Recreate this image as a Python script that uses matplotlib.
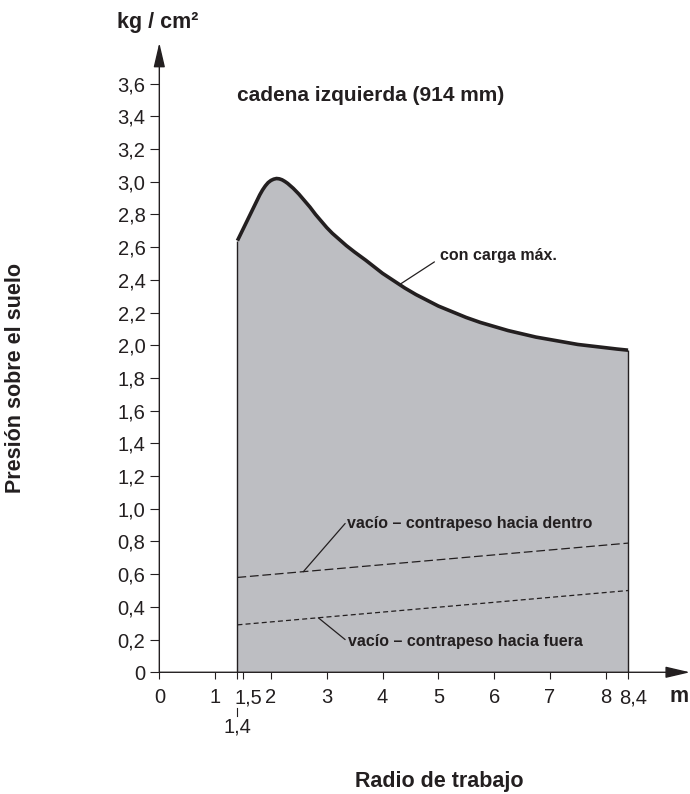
import matplotlib.pyplot as plt
import matplotlib.transforms as mtrans
import numpy as np

plt.rcParams['font.family'] = ['Liberation Sans', 'DejaVu Sans']

# working radius (m) and ground pressure (kg/cm2), max load
radius = np.array([1.4, 1.5, 1.6, 1.7, 1.8, 1.85, 1.9, 1.95, 2.0, 2.05, 2.1, 2.15,
                   2.2, 2.25, 2.3, 2.4, 2.5, 2.6, 2.7, 2.8, 2.9, 3.0, 3.1, 3.2,
                   3.35, 3.5, 3.7, 3.85, 4.0, 4.2, 4.4, 4.6, 4.8, 5.0, 5.25, 5.5,
                   5.75, 6.0, 6.25, 6.5, 6.75, 7.0, 7.25, 7.5, 7.75, 8.0, 8.2, 8.4])
max_load = np.array([2.64, 2.71, 2.78, 2.85, 2.92, 2.95, 2.975, 2.995, 3.008, 3.016,
                     3.02, 3.018, 3.012, 3.002, 2.99, 2.96, 2.925, 2.885, 2.845, 2.80,
                     2.76, 2.72, 2.685, 2.655, 2.61, 2.57, 2.52, 2.48, 2.44, 2.395,
                     2.35, 2.31, 2.275, 2.24, 2.205, 2.17, 2.14, 2.115, 2.09, 2.07,
                     2.05, 2.035, 2.02, 2.005, 1.995, 1.985, 1.977, 1.97])

# empty, counterweight inward / outward
empty_radius = np.array([1.4, 8.4])
empty_inward = np.array([0.58, 0.79])
empty_outward = np.array([0.29, 0.50])

yticks = np.arange(0, 3.61, 0.2)
ytick_labels = ["0"] + [f"{v:.1f}".replace(".", ",") for v in yticks[1:]]
xticks = [0, 1, 1.4, 1.5, 2, 3, 4, 5, 6, 7, 8, 8.4]
xtick_labels = ["0", "1", "", "1,5", "2", "3", "4", "5", "6", "7", "8", "8,4"]

ink = "#231f20"
grey = "#bdbec2"

fig = plt.figure(figsize=(6.9, 7.94), dpi=100)
ax = fig.add_axes([0.2309, 0.1533, 0.7691, 0.7928])
ax.set_xlim(0, 9.51)
ax.set_ylim(0, 3.85)

ax.fill_between(radius, 0, max_load, color=grey, lw=0)
ax.plot(radius, max_load, color=ink, lw=2.6, solid_capstyle="butt",
        solid_joinstyle="round")
ax.vlines([radius[0], radius[-1]], 0, [max_load[0], max_load[-1]], color=ink, lw=1)
ax.plot(empty_radius, empty_inward, color=ink, lw=0.9, ls=(0, (7, 3)))
ax.plot(empty_radius, empty_outward, color=ink, lw=0.9, ls=(0, (4, 2.5)))

for s in ax.spines.values():
    s.set_visible(False)

# axis lines with arrow heads
arrow = dict(arrowstyle="-|>,head_length=1.5,head_width=0.35", mutation_scale=10,
             lw=1, color=ink, shrinkA=0, shrinkB=0)
ax.annotate("", xy=(1, 0), xytext=(0, 0), xycoords="axes fraction", arrowprops=arrow)
ax.annotate("", xy=(0, 1), xytext=(0, 0), xycoords="axes fraction", arrowprops=arrow)

ax.set_yticks(yticks, ytick_labels)
ax.set_xticks(xticks, xtick_labels)
ax.tick_params(axis="y", length=6.5, width=0.8, pad=3.5, labelsize=14.5, colors=ink)
ax.tick_params(axis="x", length=5, width=0.8, pad=6.5, labelsize=14.5, colors=ink)
# "1,5" and "8,4" sit a little right of their ticks
shift = mtrans.ScaledTranslation(5 / 100, 0, fig.dpi_scale_trans)
for lab in ax.get_xticklabels():
    if lab.get_text() in ("1,5", "8,4"):
        lab.set_transform(lab.get_transform() + shift)

# extra 1,4 marker below the axis
ax.plot([1.4, 1.4], [-0.218, -0.267], color=ink, lw=0.8, clip_on=False)
ax.text(1.4, -0.335, "1,4", ha="center", va="center", fontsize=14.5, color=ink)

bold = dict(fontweight="bold", color=ink)
ax.text(1.39, 3.53, "cadena izquierda (914 mm)", fontsize=15, va="center", **bold)
ax.text(5.03, 2.55, "con carga máx.", fontsize=11.5, va="center", **bold)
ax.text(3.36, 0.91, "vacío – contrapeso hacia dentro", fontsize=11.5, va="center", **bold)
ax.text(3.39, 0.19, "vacío – contrapeso hacia fuera", fontsize=11.5, va="center", **bold)

leader = dict(arrowstyle="-", lw=0.9, color=ink, shrinkA=0, shrinkB=0)
ax.annotate("", xy=(4.3, 2.37), xytext=(4.93, 2.51), arrowprops=leader)
ax.annotate("", xy=(2.58, 0.615), xytext=(3.33, 0.91), arrowprops=leader)
ax.annotate("", xy=(2.85, 0.333), xytext=(3.33, 0.20), arrowprops=leader)

fig.text(0.1696, 0.9647, "kg / cm²", fontsize=15.5, va="baseline", **bold)
fig.text(0.971, 0.1159, "m", fontsize=15.5, va="baseline", **bold)
fig.text(0.023, 0.524, "Presión sobre el suelo", fontsize=15.5, rotation=90,
         ha="center", va="center", **bold)
fig.text(0.636, 0.002, "Radio de trabajo", fontsize=15.5, ha="center",
         va="bottom", **bold)

fig.savefig("out.png", dpi=100)
